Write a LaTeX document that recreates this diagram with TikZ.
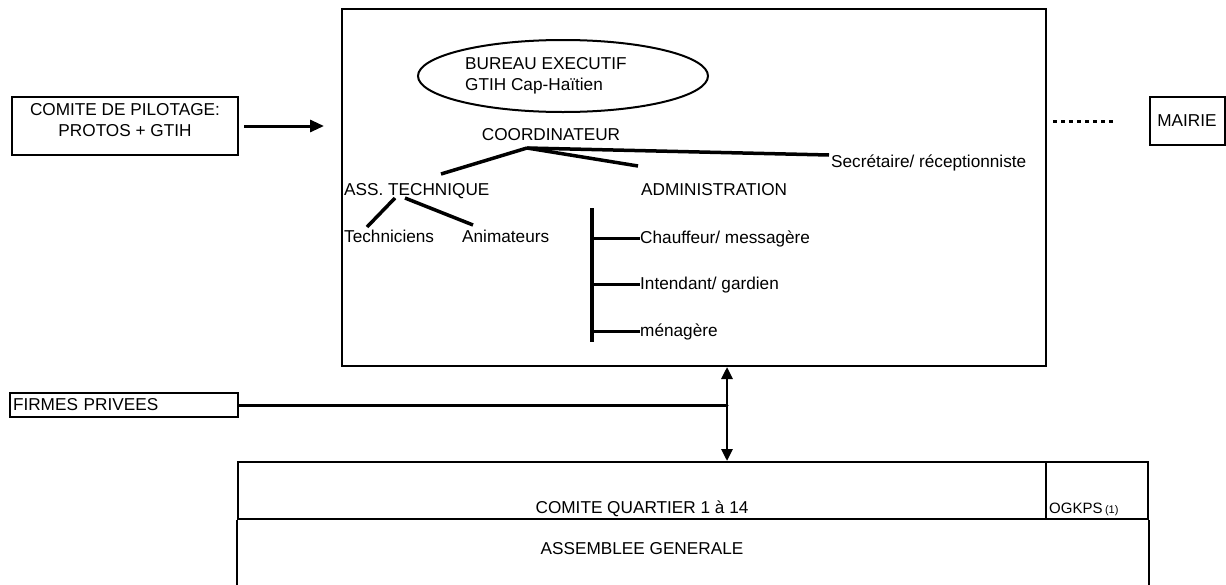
\documentclass[tikz,border=0pt]{standalone}
\usepackage{fontspec}
\setmainfont{Liberation Sans}
\usetikzlibrary{shapes.geometric,arrows.meta}
\begin{document}
\begin{tikzpicture}[x=1pt,y=-1pt,
  every node/.style={font=\fontsize{17.2}{21.5}\selectfont, inner sep=0pt},
  frame/.style={draw, line width=2pt},
  link/.style={line width=3.5pt},
  arr/.style={line width=3pt, -{Triangle[length=14pt,width=12pt]}},
  dblarr/.style={line width=2.8pt, {Triangle[length=12pt,width=11pt]}-{Triangle[length=12pt,width=11pt]}},
  dots/.style={line width=3pt, dash pattern=on 4pt off 4pt},
  lbl/.style={anchor=base west},
]
\fill[white] (0,0) rectangle (1226,584);
\useasboundingbox (0,0) rectangle (1226,584);

% steering committee feeding the project office
\node[frame, minimum width=226pt, minimum height=58pt, align=center] (pilot) at (125,126)
  {COMITE DE PILOTAGE:\\PROTOS + GTIH\rule[-12pt]{0pt}{0pt}};
\node[frame, minimum width=704pt, minimum height=357pt] (office) at (694,187.5) {};
\draw[arr, shorten <=5pt, shorten >=17pt] (pilot.east) -- (pilot.east -| office.west);

% executive bureau
\node[draw, ellipse, line width=2pt, minimum width=290pt, minimum height=72pt] (bureau) at (563,76) {};
\node[anchor=west, align=left] (bureautxt) at (465,76) {BUREAU EXECUTIF\\GTIH Cap-Haïtien};

% coordinator and its three branches
\node[anchor=base] (coord) at (551,140) {COORDINATEUR};
\coordinate (hub) at (527,148);
\node[lbl] (tech) at (344,195) {ASS. TECHNIQUE};
\node[lbl] (admin) at (641,195) {ADMINISTRATION};
\node[lbl] (secr) at (831,167) {Secrétaire/ réceptionniste};
\coordinate (techtop) at (441,174);
\coordinate (admintop) at (638,166);
\coordinate (secrend) at (829,155);
\draw[link] (hub) -- (techtop);
\draw[link] (hub) -- (admintop);
\draw[link] (hub) -- (secrend);

% technical assistance staff
\node[lbl] (techn) at (344,242) {Techniciens};
\node[lbl] (anim) at (462,242) {Animateurs};
\coordinate (techA) at (395,198);
\coordinate (techB) at (405,198);
\coordinate (technTop) at (367,227);
\coordinate (animTop) at (473,225);
\draw[link] (techA) -- (technTop);
\draw[link] (techB) -- (animTop);

% administration staff
\node[lbl] (chauf) at (640,243) {Chauffeur/ messagère};
\node[lbl] (intend) at (640,289) {Intendant/ gardien};
\node[lbl] (menag) at (640,336) {ménagère};
\coordinate (barTop) at (592,208);
\coordinate (barBot) at (592,342);
\draw[link] (barTop) -- (barBot);
\draw[link] (chauf.west -| barTop) -- (chauf.west);
\draw[link] (intend.west -| barTop) -- (intend.west);
\draw[link] (menag.west -| barTop) -- (menag.west);

% town hall
\node[frame, minimum width=75pt, minimum height=48pt] (mairie) at (1187,121) {MAIRIE};
\draw[dots, shorten <=6pt, shorten >=36pt] (mairie.west -| office.east) -- (mairie.west);

% private firms
\node[frame, minimum width=228pt, minimum height=24pt, text width=222pt, align=left] (firmes) at (124,405) {FIRMES PRIVEES};
\coordinate (junction) at (727,405);
\draw[line width=3pt, line cap=round] (firmes.east) -- (junction);

% neighbourhood committees and general assembly
\node[frame, minimum width=808pt, minimum height=57pt] (quartier) at (642,490.5) {};
\node[frame, minimum width=102pt, minimum height=57pt] (ogkps) at (1097,490.5) {};
\draw[line width=2pt] (quartier.south west) -- ++(0,70);
\draw[line width=2pt] (ogkps.south east) -- ++(0,70);
\node[anchor=base] (quartiertxt) at (642,513) {COMITE QUARTIER 1 à 14};
\node[anchor=base west] (ogkpstxt) at (1049,513)
  {\fontsize{15}{18}\selectfont OGKPS\,{\fontsize{11}{13}\selectfont(1)}};
\node[anchor=base] (assembtxt) at (642,554) {ASSEMBLEE GENERALE};

\draw[dblarr] (office.south -| junction) -- (quartier.north -| junction);
\end{tikzpicture}
\end{document}
